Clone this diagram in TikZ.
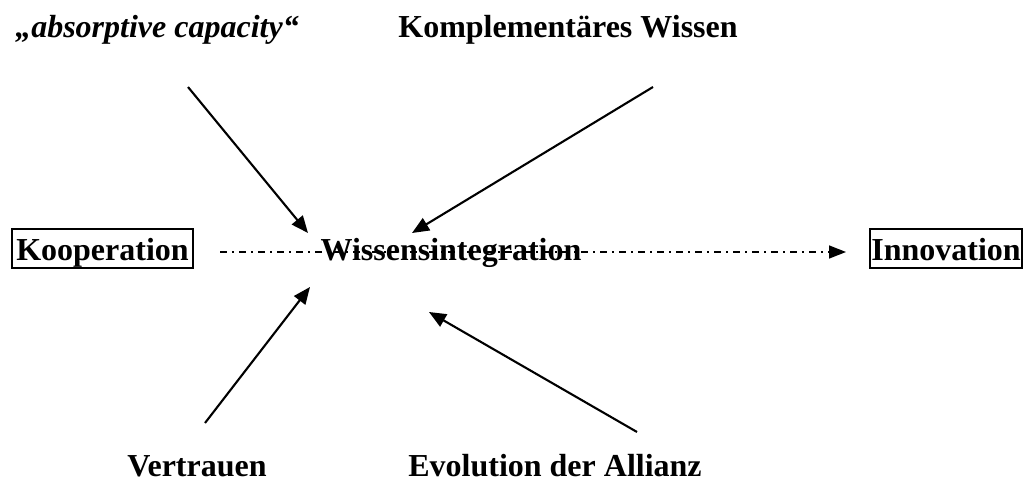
\documentclass[tikz,border=0pt]{standalone}
\usepackage{fontspec}
\setmainfont{Liberation Serif}
\usetikzlibrary{arrows.meta}
\tikzset{
  lbl/.style={font=\fontsize{32}{38}\selectfont\bfseries, inner sep=0pt, anchor=base},
  boxed/.style={lbl, draw, line width=1.8pt, text height=28pt, text depth=5pt, inner ysep=3pt, inner xsep=0pt},
  infl/.style={line width=2.1pt, -{Triangle[length=17pt,width=14pt]}},
  flow/.style={line width=1.5pt, dash pattern=on 7pt off 5pt on 2pt off 5pt, -{Triangle[length=17pt,width=13pt]}}
}
\begin{document}
\begin{tikzpicture}[x=1pt,y=-1pt]
\useasboundingbox (0,0) rectangle (1024,486);
% texts
\node[lbl] (absorb) at (157,38) {\itshape ,,absorptive capacity``};
\node[lbl] (kompl) at (568,38) {Komplementäres Wissen};
\node[boxed, minimum width=181pt] (koop) at (102.5,260) {Kooperation};
\node[boxed, minimum width=152pt] (innov) at (946,260) {Innovation};
\node[lbl] (wiss) at (451,260) {Wissensintegration};
\node[lbl] (vert) at (197,476) {Vertrauen};
\node[lbl] (evol) at (555,476) {Evolution der Allianz};
% connector ends
\coordinate (f1) at (220,252);
\coordinate (f2) at (846,252);
\coordinate (a1s) at (188,87);
\coordinate (a1e) at (308,233);
\coordinate (a2s) at (653,87);
\coordinate (a2e) at (412,233);
\coordinate (a3s) at (205,423);
\coordinate (a3e) at (310,287);
\coordinate (a4s) at (637,432);
\coordinate (a4e) at (429,312);
% connectors
\draw[flow] (f1) -- (f2);
\draw[infl] (a1s) -- (a1e);
\draw[infl] (a2s) -- (a2e);
\draw[infl] (a3s) -- (a3e);
\draw[infl] (a4s) -- (a4e);
\end{tikzpicture}
\end{document}
